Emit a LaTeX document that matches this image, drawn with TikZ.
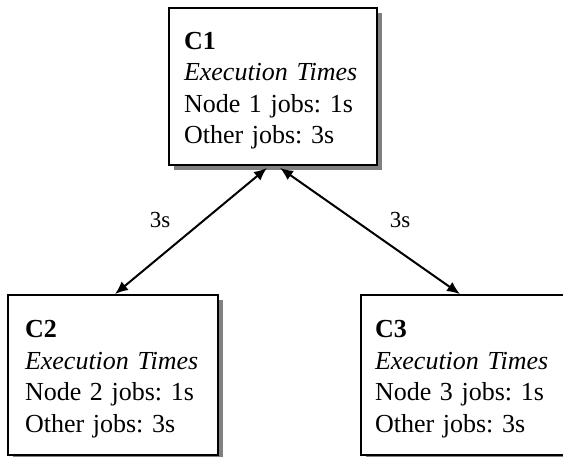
\documentclass[tikz,border=0pt]{standalone}
\usepackage{fontspec}
\setmainfont{Liberation Serif}
\usetikzlibrary{arrows.meta,shadows}
\frenchspacing

\tikzset{
	cbox/.style={draw, line width=1.8pt, fill=white, align=left, inner ysep=0pt,
		font=\fontsize{26pt}{31.5pt}\selectfont,
		drop shadow={shadow xshift=5pt, shadow yshift=-5pt, fill=black!50, opacity=1}},
	link/.style={{Latex[length=13pt,width=11pt]}-{Latex[length=13pt,width=11pt]}, line width=2pt},
	lbl/.style={font=\fontsize{23pt}{26pt}\selectfont}
}
\newcommand{\hd}[1]{\rule{0pt}{26pt}\textbf{#1}}

\begin{document}
\begin{tikzpicture}[x=1pt, y=-1pt]
			%%%%% START %%%%%
			
			\useasboundingbox (0, 0) rectangle (563, 457);
			\clip (0, 0) rectangle (563, 457);
			
			\node[cbox, text width=178pt, inner xsep=15pt, minimum height=157pt] (c1) at (273, 86.5)
				{\hd{C1}\\ \textit{Execution Times}\\ Node 1 jobs: 1s\\ Other jobs: 3s};
			
			\node[cbox, text width=176pt, inner xsep=17pt, minimum height=160pt] (c2) at (113, 375)
				{\hd{C2}\\ \textit{Execution Times}\\ Node 2 jobs: 1s\\ Other jobs: 3s};
			
			\node[cbox, text width=182pt, inner xsep=14pt, minimum height=160pt] (c3) at (466, 375)
				{\hd{C3}\\ \textit{Execution Times}\\ Node 3 jobs: 1s\\ Other jobs: 3s};
			
			\draw[link] ([xshift=-6pt, yshift=-2pt]c1.south) -- ([xshift=2pt]c2.north)
				node[lbl, midway, xshift=-31pt, yshift=11pt] (t12) {3s};
			\draw[link] ([xshift=7pt, yshift=-2pt]c1.south) -- ([xshift=-6pt]c3.north)
				node[lbl, midway, xshift=30pt, yshift=11pt] (t13) {3s};
			
			%%%%% END %%%%%
\end{tikzpicture}
\end{document}
